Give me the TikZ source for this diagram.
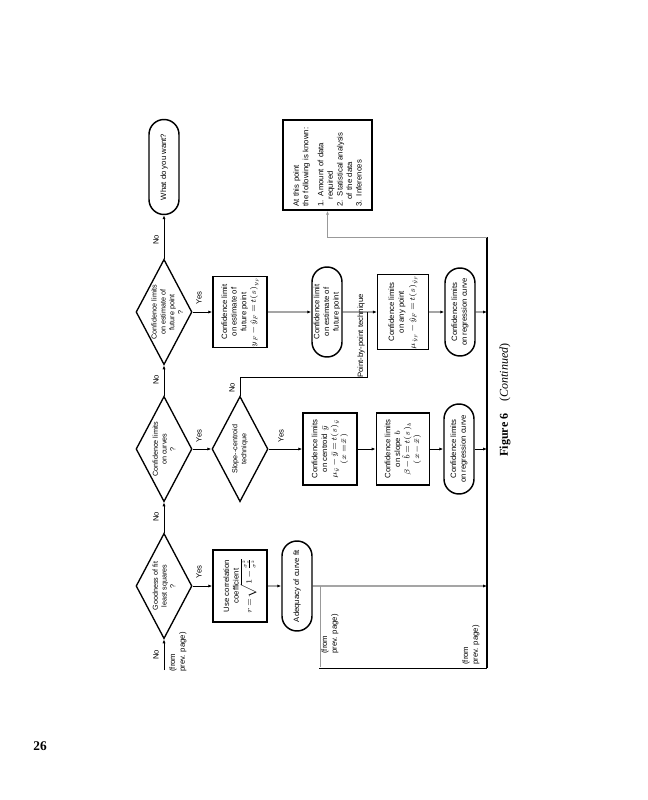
\documentclass[tikz,border=0pt]{standalone}
\usepackage{fix-cm}
\usepackage{fontspec}
\setmainfont{Liberation Serif}
\newfontfamily\flowfont{Liberation Sans}
\usetikzlibrary{shapes.geometric,shapes.misc,arrows.meta}
\newcommand\tightmath{\medmuskip=1mu\thickmuskip=1.5mu\relax}
\begin{document}
\begin{tikzpicture}[x=0.75pt,y=-0.75pt,
  every node/.style={inner sep=0pt},
  ff/.style={font=\flowfont\fontsize{5.8}{7.2}\selectfont\tightmath},
  lbl/.style={ff,rotate=90,align=center},
  dlbl/.style={rotate=90,align=center,font=\flowfont\fontsize{5.4}{6.6}\selectfont},
  boxn/.style={ff,draw,line width=1.1pt,rectangle,rotate=90,align=center},
  stad/.style={ff,draw,line width=1.1pt,rounded rectangle,rotate=90,align=center,minimum height=22.5pt},
  dia/.style={draw,line width=1pt,diamond,rotate=90,minimum width=79pt,minimum height=42pt},
  arr/.style={line width=0.6pt,-{Latex[length=3pt,width=2.4pt]}},
  ln/.style={line width=0.6pt},
  gln/.style={line width=0.6pt,draw=black!40}
]
\useasboundingbox (0,0) rectangle (647,800);

% column of decisions
\node[stad,minimum width=71.25pt] (t1) at (164,167) {What do you want?};
\node[dia] (d3) at (164,312) {};
\node[dlbl] (d3t) at ([xshift=2.5pt]d3.center) {Confidence limits\\on estimate of\\future point\\?};
\node[dia] (d2) at (164,449) {};
\node[dlbl] (d2t) at (d2) {Confidence limits\\on curves\\?};
\node[dia] (d1) at (164,586) {};
\node[dlbl] (d1t) at (d1) {Goodness of fit\\least squares\\?};
\node[dia] (d4) at (240,449) {};
\node[dlbl] (d4t) at (d4) {Slope--centroid\\technique};

% row 3 (future point)
\node[boxn,minimum width=52.5pt,minimum height=40.5pt] (b3) at (240,312)
  {Confidence limit\\on estimate of\\future point\\$y_F-\hat{y}_F=t(s)_{y_F}$};
\node[stad,minimum width=67.5pt] (s5) at (327,312) {Confidence limit\\on estimate of\\future point};
\node[boxn,minimum width=51pt,minimum height=38pt] (bany) at (403,312)
  {Confidence limits\\on any point\\[1pt]$\mu_{\hat{y}_F}-\hat{y}_F=t(s)_{\hat{y}_F}$};
\node[stad,minimum width=66pt] (sr3) at (460,312) {Confidence limits\\on regression curve};

% row 2 (curves)
\node[boxn,minimum width=54pt,minimum height=40.5pt] (bc) at (330,449)
  {Confidence limits\\on centroid $\bar{y}$\\$\mu_{\bar{y}}-\bar{y}=t(s)_{\bar{y}}$\\$(x=\bar{x})$};
\node[boxn,minimum width=54pt,minimum height=40pt] (bs) at (403,449)
  {Confidence limits\\on slope $b$\\$\beta-\hat{b}=t(s)_{b}$\\$(x-\bar{x})$};
\node[stad,minimum width=67.5pt] (sr2) at (459,449) {Confidence limits\\on regression curve};

% row 1 (goodness of fit)
\node[boxn,minimum width=54pt,minimum height=40.5pt] (b1) at (240,586)
  {Use correlation\\coefficient\\$r=\sqrt{1-\frac{\sigma_e^2}{\sigma^2}}$};
\node[stad,minimum width=67.5pt] (sa) at (297,586) {Adequacy of curve fit};

% summary box
\node[boxn,minimum width=67.5pt,minimum height=66.75pt,align=left,text width=62pt] (info) at (327.5,165)
  {At this point\\the following is known:\\[4pt]1. Amount of data\\\hspace*{0.9em}required\\2. Statistical analysis\\\hspace*{0.9em}of the data\\3. Inferences};

% coordinates
\coordinate (in1) at (164,670);
\coordinate (bt) at (487,237);
\coordinate (bb) at (487,668);
\coordinate (b1j) at (487,586);
\coordinate (b2j) at (487,449);
\coordinate (b3j) at (487,312);
\coordinate (g1) at (320,667);
\coordinate (g1t) at (320,586);
\coordinate (fl) at (319,668);
\coordinate (nk1) at (240,377);
\coordinate (jn) at (367,312);

% connectors
\draw[arr] (in1) -- (d1);
\draw[arr] (d1) -- (d2);
\draw[arr] (d2) -- (d3);
\draw[arr] (d3) -- (t1);
\draw[arr] (d1) -- (b1);
\draw[arr] (b1) -- (sa);
\draw[arr] (sa) -- (b1j);
\draw[gln] (g1) -- (g1t);
\draw[arr] (d2) -- (d4);
\draw[arr] (d4) -- (bc);
\draw[arr] (bc) -- (bs);
\draw[arr] (bs) -- (sr2);
\draw[arr] (sr2) -- (b2j);
\draw[arr] (d3) -- (b3);
\draw[arr] (b3) -- (s5);
\draw[arr] (s5) -- (bany);
\draw[arr] (bany) -- (sr3);
\draw[arr] (sr3) -- (b3j);
\draw[ln] (d4) -- (nk1) -| (jn);
\draw[line width=0.9pt] (bt) -- (bb);
\draw[ln] (fl) -- (bb);
\draw[gln,-{Latex[length=3pt,width=2.4pt]}] (bt) -| (info);

% labels
\node[lbl] (n0) at (156,655) {No};
\node[lbl,align=left] (fp1) at (178,652) {(from\\prev. page)};
\node[lbl] (n1) at (156,517) {No};
\node[lbl] (n2) at (156,380) {No};
\node[lbl] (n3) at (156,240) {No};
\node[lbl] (y1) at (199,572) {Yes};
\node[lbl] (y2) at (199,436) {Yes};
\node[lbl] (y3) at (199,298) {Yes};
\node[lbl] (y4) at (281,436) {Yes};
\node[lbl] (n4) at (232,388) {No};
\node[lbl] (pbp) at (361,336) {Point-by-point technique};
\node[lbl,align=left] (fp2) at (330,634) {(from\\prev. page)};
\node[lbl,align=left] (fp3) at (471,645) {(from\\prev. page)};

% caption and page number
\node[rotate=90,font=\fontsize{9}{11}\selectfont] (cap) at (505,400) {\textbf{Figure 6}\quad(\textit{Continued})};
\node[font=\bfseries\fontsize{10}{12}\selectfont] (pg) at (40,746) {26};
\end{tikzpicture}
\end{document}
